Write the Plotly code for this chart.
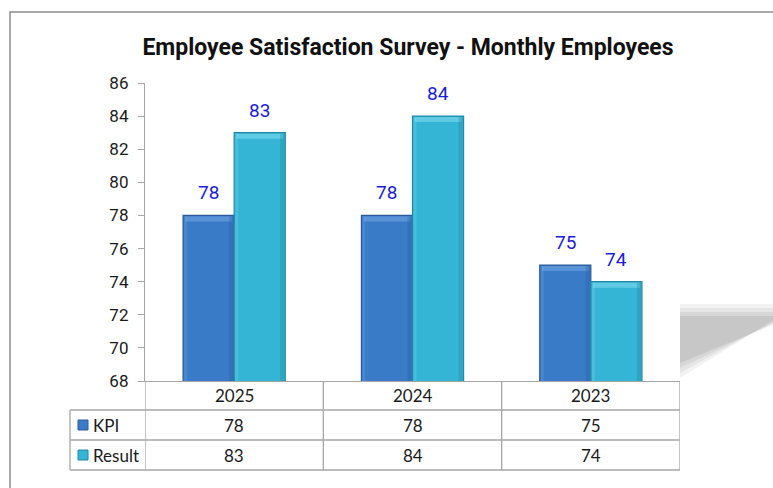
import plotly.graph_objects as go

# ---- data ----
categories = ["2025", "2024", "2023"]
kpi_values = [78, 78, 75]
result_values = [83, 84, 74]
series_names = ["KPI", "Result"]
y_ticks = [68, 70, 72, 74, 76, 78, 80, 82, 84, 86]
title_text = "Employee Satisfaction Survey - Monthly Employees"

# ---- styling ----
W, H = 773, 488
L, R, T, B = 145, 93, 83, 107
PW, PH = W - L - R, H - T - B
kpi_color = "#3A7BC8"
kpi_edge = "#2A5C99"
res_color = "#35B5D5"
res_edge = "#1F8AA5"
label_color = "#1C1CD9"
grid_color = "#A6A6A6"
BARGAP = 0.427


def px_x(px):
    return (px - L) / PW


def px_y(py):
    return (H - B - py) / PH


fig = go.Figure()
fig.add_trace(go.Bar(x=categories, y=kpi_values, name=series_names[0],
                     marker=dict(color=kpi_color, line=dict(color=kpi_edge, width=1.2))))
fig.add_trace(go.Bar(x=categories, y=result_values, name=series_names[1],
                     marker=dict(color=res_color, line=dict(color=res_edge, width=1.2))))

shapes = []
annotations = []

# bevel-ish shading on bars, derived from data values
cat_px = PW / len(categories)
bar_w_px = cat_px * (1 - BARGAP) / 2
bar_w_data = bar_w_px / cat_px
px_data_x = 1 / cat_px          # one pixel in x data units
px_data_y = 18 / PH             # one pixel in y data units
for i, c in enumerate(categories):
    for j, (vals, hi, dk) in enumerate([(kpi_values, "#74A8E6", "#2B5E9E"),
                                        (result_values, "#86DCF0", "#22879F")]):
        x0 = i - bar_w_data + j * bar_w_data
        x1 = x0 + bar_w_data
        v = vals[i]
        # top bevel
        shapes.append(dict(type="rect", xref="x", yref="y",
                           x0=x0 + 2 * px_data_x, x1=x1 - 2 * px_data_x,
                           y0=v - 6 * px_data_y, y1=v - 1 * px_data_y,
                           fillcolor=hi, line=dict(width=0), opacity=0.55, layer="above"))
        # right dark edge
        shapes.append(dict(type="rect", xref="x", yref="y",
                           x0=x1 - 5 * px_data_x, x1=x1 - 1 * px_data_x,
                           y0=68, y1=v - 1 * px_data_y,
                           fillcolor=dk, line=dict(width=0), opacity=0.35, layer="above"))
        # left light edge
        shapes.append(dict(type="rect", xref="x", yref="y",
                           x0=x0 + 1 * px_data_x, x1=x0 + 4 * px_data_x,
                           y0=68, y1=v - 1 * px_data_y,
                           fillcolor=hi, line=dict(width=0), opacity=0.25, layer="above"))

# data labels
for i, c in enumerate(categories):
    for j, vals in enumerate([kpi_values, result_values]):
        annotations.append(dict(x=i, y=vals[i], xref="x", yref="y",
                                xshift=(j - 0.5) * bar_w_px, yshift=9, yanchor="bottom",
                                xanchor="center",
                                text=str(vals[i]), showarrow=False,
                                font=dict(size=19, color=label_color,
                                          family="Roboto, sans-serif")))

# outer chart border
shapes.append(dict(type="rect", xref="paper", yref="paper", x0=px_x(10), x1=px_x(800),
                   y0=px_y(500), y1=px_y(12), line=dict(color="#8C8C8C", width=1.5),
                   fillcolor="rgba(0,0,0,0)", layer="below"))

# shadow at right
for k, op in enumerate([0.05, 0.05, 0.06, 0.07]):
    d = 6 - 2 * k
    pts = [(680, 304 + k * 4), (780, 304 + k * 4), (780, 322 - d), (680, 378 - k * 5)]
    path = "M " + " L ".join(f"{px_x(a)},{px_y(b)}" for a, b in pts) + " Z"
    shapes.append(dict(type="path", xref="paper", yref="paper", path=path,
                       fillcolor=f"rgba(0,0,0,{op})", line=dict(width=0), layer="below"))

# data table grid
line_style = dict(color=grid_color, width=1.3)
ys = [381, 410, 440, 470]
col_edges = [-0.5 + k for k in range(len(categories) + 1)]
for y in ys[1:]:
    shapes.append(dict(type="line", xref="paper", yref="paper", x0=px_x(70), x1=1,
                       y0=px_y(y), y1=px_y(y), line=line_style))
for xe in col_edges:
    shapes.append(dict(type="line", xref="x", yref="paper", x0=xe, x1=xe,
                       y0=px_y(381), y1=px_y(470), line=line_style))
shapes.append(dict(type="line", xref="paper", yref="paper", x0=px_x(70), x1=px_x(70),
                   y0=px_y(410), y1=px_y(470), line=line_style))

table_font = dict(size=17, color="#1a1a1a", family="Lato, Open Sans, sans-serif")
for i, c in enumerate(categories):
    for yc, txt in [(395.5, c), (425, str(kpi_values[i])), (455, str(result_values[i]))]:
        annotations.append(dict(x=i, y=px_y(yc), xref="x", yref="paper", text=txt,
                                xanchor="center", yanchor="middle",
                                showarrow=False, font=table_font))

for name, col, edge, yc in [(series_names[0], kpi_color, kpi_edge, 425),
                            (series_names[1], res_color, res_edge, 455)]:
    shapes.append(dict(type="rect", xref="paper", yref="paper", x0=px_x(78), x1=px_x(88),
                       y0=px_y(yc + 5), y1=px_y(yc - 5), fillcolor=col,
                       line=dict(color=edge, width=1)))
    annotations.append(dict(x=px_x(91), y=px_y(yc), xref="paper", yref="paper", text=name,
                            xanchor="left", yanchor="middle", showarrow=False,
                            font=table_font))

fig.update_layout(
    width=W, height=H,
    margin=dict(l=L, r=R, t=T, b=B),
    paper_bgcolor="white", plot_bgcolor="white",
    barmode="group", bargap=BARGAP, bargroupgap=0,
    showlegend=False,
    title=dict(text=f"<b>{title_text}</b>", x=408 / W, xanchor="center",
               y=1 - 47 / H, yanchor="middle",
               font=dict(size=23, color="#111111", family="Roboto, sans-serif")),
    shapes=shapes,
    annotations=annotations,
    xaxis=dict(type="category", range=[-0.5, len(categories) - 0.5], autorange=False,
               showticklabels=False, showline=True, linecolor=grid_color,
               linewidth=1.3, ticks="", showgrid=False, zeroline=False),
    yaxis=dict(range=[68, 86], tickvals=y_ticks, showline=True, linecolor=grid_color,
               linewidth=1.3, ticks="outside", ticklen=6, tickcolor=grid_color,
               showgrid=False, zeroline=False, ticklabelstandoff=6,
               tickfont=dict(size=17, color="#1a1a1a", family="Roboto, sans-serif")),
)

fig.write_html("out.html")
